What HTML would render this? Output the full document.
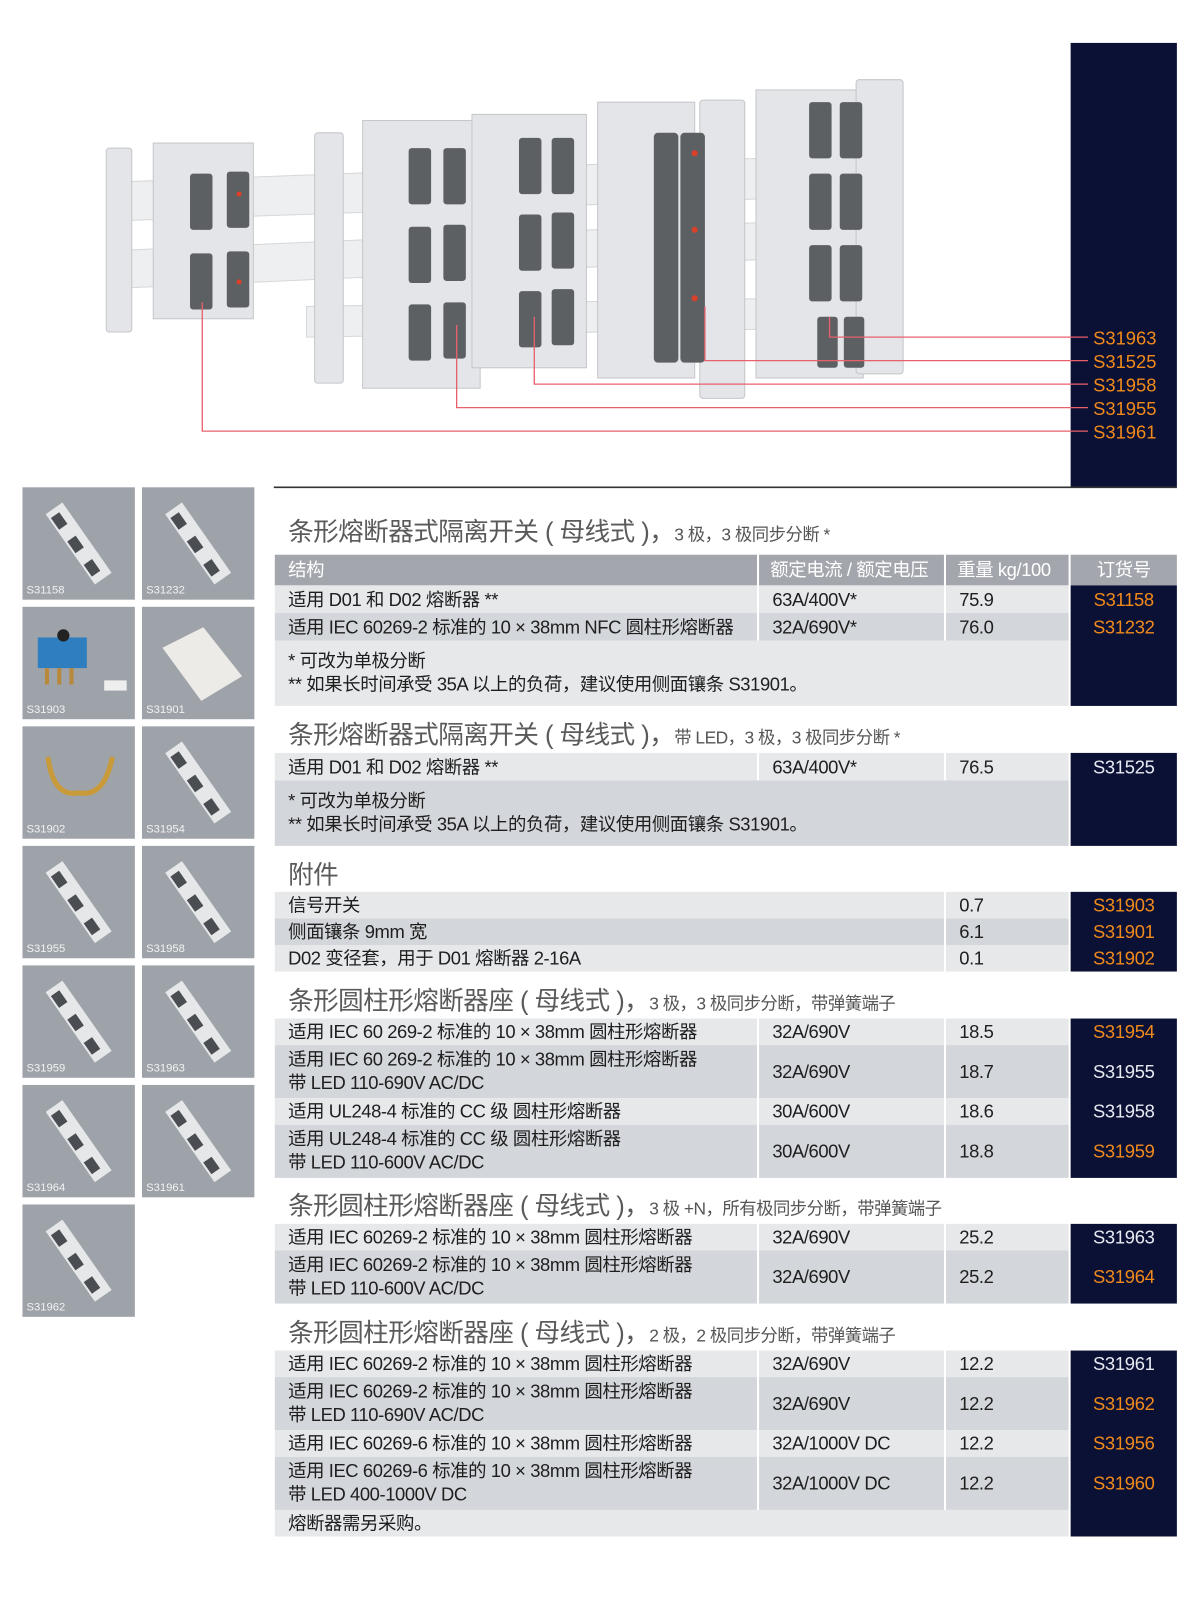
<!DOCTYPE html>
<html><head><meta charset="utf-8">
<style>
*{margin:0;padding:0;box-sizing:border-box}
body{width:1200px;height:1601px;background:#fff;position:relative;overflow:hidden;font-family:"Liberation Sans","Noto Sans CJK SC",sans-serif;color:#1e1e1e}
#w{position:absolute;left:0;top:0;width:1175px;height:1567px;transform:scale(1.0216);transform-origin:0 0}
.a{position:absolute}
.c{position:absolute;font-size:18px;line-height:20px;display:flex;flex-direction:column;justify-content:center;padding-left:13px;letter-spacing:-0.4px;white-space:nowrap}
.L{background:#e6e8ea}.D{background:#d3d6da}
.o{position:absolute;left:1048px;width:104px;text-align:center;font-size:18px;letter-spacing:-0.3px;line-height:20px}
.or{color:#f08a1c}.wh{color:#e8eaf2}
.nv{position:absolute;left:1048px;width:104px;background:#0b1134}
.t{position:absolute;left:282px;font-size:25px;color:#5a5a5a;white-space:nowrap;letter-spacing:-0.5px}
.t span{font-size:17px;color:#555}
.th{position:absolute;left:22px;width:110px;height:110px;background:#9ea3aa}
.tl{position:absolute;left:4px;bottom:3px;font-size:11px;color:#f2f2f2}
</style></head><body><div id="w">

<svg class="a" style="left:0;top:0" width="1200" height="480">
<rect x="1048" y="42" width="104" height="435" fill="#0b1134"/>
<line x1="268" y1="477" x2="1152" y2="477" stroke="#333" stroke-width="1.5"/>
<g fill="#eeeff0" stroke="#d6d7d9">
<polygon points="120,178 880,150 880,190 120,216"/>
<polygon points="120,245 880,212 880,248 120,282"/>
<polygon points="300,300 880,290 880,320 300,330"/>
</g>
<g fill="#e4e5e8" stroke="#c4c6c9" stroke-width="1">
<rect x="104" y="145" width="25" height="180" rx="3"/>
<rect x="150" y="140" width="98" height="172"/>
<rect x="308" y="130" width="28" height="245" rx="3"/>
<rect x="355" y="118" width="115" height="262"/>
<rect x="462" y="112" width="112" height="248"/>
<rect x="585" y="100" width="95" height="270"/>
<rect x="685" y="98" width="44" height="292" rx="3"/>
<rect x="740" y="88" width="105" height="282"/>
<rect x="838" y="78" width="46" height="288" rx="3"/>
</g>
<g fill="#5d6063">
<rect x="186" y="170" width="22" height="55" rx="3"/><rect x="222" y="168" width="22" height="55" rx="3"/>
<rect x="186" y="248" width="22" height="55" rx="3"/><rect x="222" y="246" width="22" height="55" rx="3"/>
<rect x="400" y="145" width="22" height="55" rx="3"/><rect x="434" y="145" width="22" height="55" rx="3"/>
<rect x="400" y="222" width="22" height="55" rx="3"/><rect x="434" y="220" width="22" height="55" rx="3"/>
<rect x="400" y="298" width="22" height="55" rx="3"/><rect x="434" y="296" width="22" height="55" rx="3"/>
<rect x="508" y="135" width="22" height="55" rx="3"/><rect x="540" y="135" width="22" height="55" rx="3"/>
<rect x="508" y="210" width="22" height="55" rx="3"/><rect x="540" y="208" width="22" height="55" rx="3"/>
<rect x="508" y="285" width="22" height="55" rx="3"/><rect x="540" y="283" width="22" height="55" rx="3"/>
<rect x="640" y="130" width="24" height="225" rx="4"/><rect x="666" y="130" width="24" height="225" rx="4"/>
<rect x="792" y="100" width="22" height="55" rx="3"/><rect x="822" y="100" width="22" height="55" rx="3"/>
<rect x="792" y="170" width="22" height="55" rx="3"/><rect x="822" y="170" width="22" height="55" rx="3"/>
<rect x="792" y="240" width="22" height="55" rx="3"/><rect x="822" y="240" width="22" height="55" rx="3"/>
<rect x="800" y="310" width="20" height="50" rx="3"/><rect x="826" y="310" width="20" height="50" rx="3"/>
</g>
<g fill="#d9402a"><circle cx="234" cy="190" r="2.5"/><circle cx="234" cy="276" r="2.5"/><circle cx="680" cy="150" r="3"/><circle cx="680" cy="225" r="3"/><circle cx="680" cy="292" r="3"/></g>
<g fill="none" stroke="#e8606c" stroke-width="1.3">
<polyline points="812,310 812,330 1065,330"/>
<polyline points="690,300 690,353 1065,353"/>
<polyline points="523,310 523,376 1065,376"/>
<polyline points="447,318 447,399 1065,399"/>
<polyline points="198,296 198,422 1065,422"/>
</g>
<g font-family="Liberation Sans,sans-serif" font-size="18" fill="#f08a1c">
<text x="1070" y="337">S31963</text><text x="1070" y="360">S31525</text><text x="1070" y="383">S31958</text><text x="1070" y="406">S31955</text><text x="1070" y="429">S31961</text>
</g>
</svg>

<svg width="0" height="0" style="position:absolute"><defs>
<g id="m"><g transform="translate(55,55) rotate(-35)"><rect x="-10" y="-42" width="20" height="84" fill="#e6e7e9"/><rect x="-8" y="-36" width="10" height="14" fill="#4a4d52"/><rect x="-8" y="-8" width="10" height="14" fill="#4a4d52"/><rect x="-8" y="20" width="10" height="14" fill="#4a4d52"/></g></g>
</defs></svg>
<div class="th" style="top:477px"><svg width="110" height="110"><use href="#m"/></svg><div class="tl">S31158</div></div>
<div class="th" style="top:477px;left:139px"><svg width="110" height="110"><use href="#m"/></svg><div class="tl">S31232</div></div>
<div class="th" style="top:594px"><svg width="110" height="110"><rect x="15" y="30" width="48" height="30" fill="#2f7fc0"/><circle cx="40" cy="28" r="6" fill="#222"/><rect x="22" y="60" width="4" height="16" fill="#b8893a"/><rect x="34" y="60" width="4" height="16" fill="#b8893a"/><rect x="46" y="60" width="4" height="16" fill="#b8893a"/><rect x="80" y="72" width="22" height="10" fill="#eee"/></svg><div class="tl">S31903</div></div>
<div class="th" style="top:594px;left:139px"><svg width="110" height="110"><polygon points="20,40 60,20 98,68 58,92" fill="#ecebe8"/></svg><div class="tl">S31901</div></div>
<div class="th" style="top:711px"><svg width="110" height="110"><path d="M25,30 Q30,70 55,65 Q80,70 88,30" fill="none" stroke="#c99a3a" stroke-width="5"/></svg><div class="tl">S31902</div></div>
<div class="th" style="top:711px;left:139px"><svg width="110" height="110"><use href="#m"/></svg><div class="tl">S31954</div></div>
<div class="th" style="top:828px"><svg width="110" height="110"><use href="#m"/></svg><div class="tl">S31955</div></div>
<div class="th" style="top:828px;left:139px"><svg width="110" height="110"><use href="#m"/></svg><div class="tl">S31958</div></div>
<div class="th" style="top:945px"><svg width="110" height="110"><use href="#m"/></svg><div class="tl">S31959</div></div>
<div class="th" style="top:945px;left:139px"><svg width="110" height="110"><use href="#m"/></svg><div class="tl">S31963</div></div>
<div class="th" style="top:1062px"><svg width="110" height="110"><use href="#m"/></svg><div class="tl">S31964</div></div>
<div class="th" style="top:1062px;left:139px"><svg width="110" height="110"><use href="#m"/></svg><div class="tl">S31961</div></div>
<div class="th" style="top:1179px"><svg width="110" height="110"><use href="#m"/></svg><div class="tl">S31962</div></div>

<div class="t" style="top:501px">条形熔断器式隔离开关 ( 母线式 )，<span>3 极，3 极同步分断 *</span></div>
<div class="c" style="left:269px;top:543px;width:472px;height:30px;background:#a3a7ad;color:#fff">结构</div>
<div class="c" style="left:743px;top:543px;width:181px;height:30px;background:#a3a7ad;color:#fff;padding-left:11px">额定电流 / 额定电压</div>
<div class="c" style="left:926px;top:543px;width:120px;height:30px;background:#a3a7ad;color:#fff;padding-left:11px">重量 kg/100</div>
<div class="c" style="left:1048px;top:543px;width:104px;height:30px;background:#a3a7ad;color:#fff;padding-left:0;align-items:center">订货号</div>
<div class="nv" style="top:573px;height:118px"></div>
<div class="c L" style="left:269px;top:573px;width:472px;height:27px">适用 D01 和 D02 熔断器 **</div>
<div class="c L" style="left:743px;top:573px;width:181px;height:27px">63A/400V*</div>
<div class="c L" style="left:926px;top:573px;width:120px;height:27px">75.9</div>
<div class="o or" style="top:577px">S31158</div>
<div class="c D" style="left:269px;top:600px;width:472px;height:27px">适用 IEC 60269-2 标准的 10 × 38mm NFC 圆柱形熔断器</div>
<div class="c D" style="left:743px;top:600px;width:181px;height:27px">32A/690V*</div>
<div class="c D" style="left:926px;top:600px;width:120px;height:27px">76.0</div>
<div class="o or" style="top:604px">S31232</div>
<div class="c L" style="left:269px;top:627px;width:777px;height:64px;line-height:23px">* 可改为单极分断<br>** 如果长时间承受 35A 以上的负荷，建议使用侧面镶条 S31901。</div>

<div class="t" style="top:700px">条形熔断器式隔离开关 ( 母线式 )，<span>带 LED，3 极，3 极同步分断 *</span></div>
<div class="nv" style="top:737px;height:91px"></div>
<div class="c L" style="left:269px;top:737px;width:472px;height:27px">适用 D01 和 D02 熔断器 **</div>
<div class="c L" style="left:743px;top:737px;width:181px;height:27px">63A/400V*</div>
<div class="c L" style="left:926px;top:737px;width:120px;height:27px">76.5</div>
<div class="o wh" style="top:741px">S31525</div>
<div class="c D" style="left:269px;top:764px;width:777px;height:64px;line-height:23px">* 可改为单极分断<br>** 如果长时间承受 35A 以上的负荷，建议使用侧面镶条 S31901。</div>

<div class="t" style="top:837px">附件</div>
<div class="nv" style="top:873px;height:78px"></div>
<div class="c L" style="left:269px;top:873px;width:655px;height:26px">信号开关</div>
<div class="c L" style="left:926px;top:873px;width:120px;height:26px">0.7</div>
<div class="o or" style="top:876px">S31903</div>
<div class="c D" style="left:269px;top:899px;width:655px;height:26px">侧面镶条 9mm 宽</div>
<div class="c D" style="left:926px;top:899px;width:120px;height:26px">6.1</div>
<div class="o or" style="top:902px">S31901</div>
<div class="c L" style="left:269px;top:925px;width:655px;height:26px">D02 变径套，用于 D01 熔断器 2-16A</div>
<div class="c L" style="left:926px;top:925px;width:120px;height:26px">0.1</div>
<div class="o or" style="top:928px">S31902</div>

<div class="t" style="top:960px">条形圆柱形熔断器座 ( 母线式 )，<span>3 极，3 极同步分断，带弹簧端子</span></div>
<div class="nv" style="top:997px;height:156px"></div>
<div class="c L" style="left:269px;top:997px;width:472px;height:26px">适用 IEC 60 269-2 标准的 10 × 38mm 圆柱形熔断器</div>
<div class="c L" style="left:743px;top:997px;width:181px;height:26px">32A/690V</div>
<div class="c L" style="left:926px;top:997px;width:120px;height:26px">18.5</div>
<div class="o or" style="top:1000px">S31954</div>
<div class="c D" style="left:269px;top:1023px;width:472px;height:52px;line-height:23px">适用 IEC 60 269-2 标准的 10 × 38mm 圆柱形熔断器<br>带 LED 110-690V AC/DC</div>
<div class="c D" style="left:743px;top:1023px;width:181px;height:52px">32A/690V</div>
<div class="c D" style="left:926px;top:1023px;width:120px;height:52px">18.7</div>
<div class="o wh" style="top:1039px">S31955</div>
<div class="c L" style="left:269px;top:1075px;width:472px;height:26px">适用 UL248-4 标准的 CC 级 圆柱形熔断器</div>
<div class="c L" style="left:743px;top:1075px;width:181px;height:26px">30A/600V</div>
<div class="c L" style="left:926px;top:1075px;width:120px;height:26px">18.6</div>
<div class="o wh" style="top:1078px">S31958</div>
<div class="c D" style="left:269px;top:1101px;width:472px;height:52px;line-height:23px">适用 UL248-4 标准的 CC 级 圆柱形熔断器<br>带 LED 110-600V AC/DC</div>
<div class="c D" style="left:743px;top:1101px;width:181px;height:52px">30A/600V</div>
<div class="c D" style="left:926px;top:1101px;width:120px;height:52px">18.8</div>
<div class="o or" style="top:1117px">S31959</div>

<div class="t" style="top:1161px">条形圆柱形熔断器座 ( 母线式 )，<span>3 极 +N，所有极同步分断，带弹簧端子</span></div>
<div class="nv" style="top:1198px;height:78px"></div>
<div class="c L" style="left:269px;top:1198px;width:472px;height:26px">适用 IEC 60269-2 标准的 10 × 38mm 圆柱形熔断器</div>
<div class="c L" style="left:743px;top:1198px;width:181px;height:26px">32A/690V</div>
<div class="c L" style="left:926px;top:1198px;width:120px;height:26px">25.2</div>
<div class="o wh" style="top:1201px">S31963</div>
<div class="c D" style="left:269px;top:1224px;width:472px;height:52px;line-height:23px">适用 IEC 60269-2 标准的 10 × 38mm 圆柱形熔断器<br>带 LED 110-600V AC/DC</div>
<div class="c D" style="left:743px;top:1224px;width:181px;height:52px">32A/690V</div>
<div class="c D" style="left:926px;top:1224px;width:120px;height:52px">25.2</div>
<div class="o or" style="top:1240px">S31964</div>

<div class="t" style="top:1285px">条形圆柱形熔断器座 ( 母线式 )，<span>2 极，2 极同步分断，带弹簧端子</span></div>
<div class="nv" style="top:1322px;height:182px"></div>
<div class="c L" style="left:269px;top:1322px;width:472px;height:26px">适用 IEC 60269-2 标准的 10 × 38mm 圆柱形熔断器</div>
<div class="c L" style="left:743px;top:1322px;width:181px;height:26px">32A/690V</div>
<div class="c L" style="left:926px;top:1322px;width:120px;height:26px">12.2</div>
<div class="o wh" style="top:1325px">S31961</div>
<div class="c D" style="left:269px;top:1348px;width:472px;height:52px;line-height:23px">适用 IEC 60269-2 标准的 10 × 38mm 圆柱形熔断器<br>带 LED 110-690V AC/DC</div>
<div class="c D" style="left:743px;top:1348px;width:181px;height:52px">32A/690V</div>
<div class="c D" style="left:926px;top:1348px;width:120px;height:52px">12.2</div>
<div class="o or" style="top:1364px">S31962</div>
<div class="c L" style="left:269px;top:1400px;width:472px;height:26px">适用 IEC 60269-6 标准的 10 × 38mm 圆柱形熔断器</div>
<div class="c L" style="left:743px;top:1400px;width:181px;height:26px">32A/1000V DC</div>
<div class="c L" style="left:926px;top:1400px;width:120px;height:26px">12.2</div>
<div class="o or" style="top:1403px">S31956</div>
<div class="c D" style="left:269px;top:1426px;width:472px;height:52px;line-height:23px">适用 IEC 60269-6 标准的 10 × 38mm 圆柱形熔断器<br>带 LED 400-1000V DC</div>
<div class="c D" style="left:743px;top:1426px;width:181px;height:52px">32A/1000V DC</div>
<div class="c D" style="left:926px;top:1426px;width:120px;height:52px">12.2</div>
<div class="o or" style="top:1442px">S31960</div>
<div class="c L" style="left:269px;top:1478px;width:777px;height:26px">熔断器需另采购。</div>
</div></body></html>
